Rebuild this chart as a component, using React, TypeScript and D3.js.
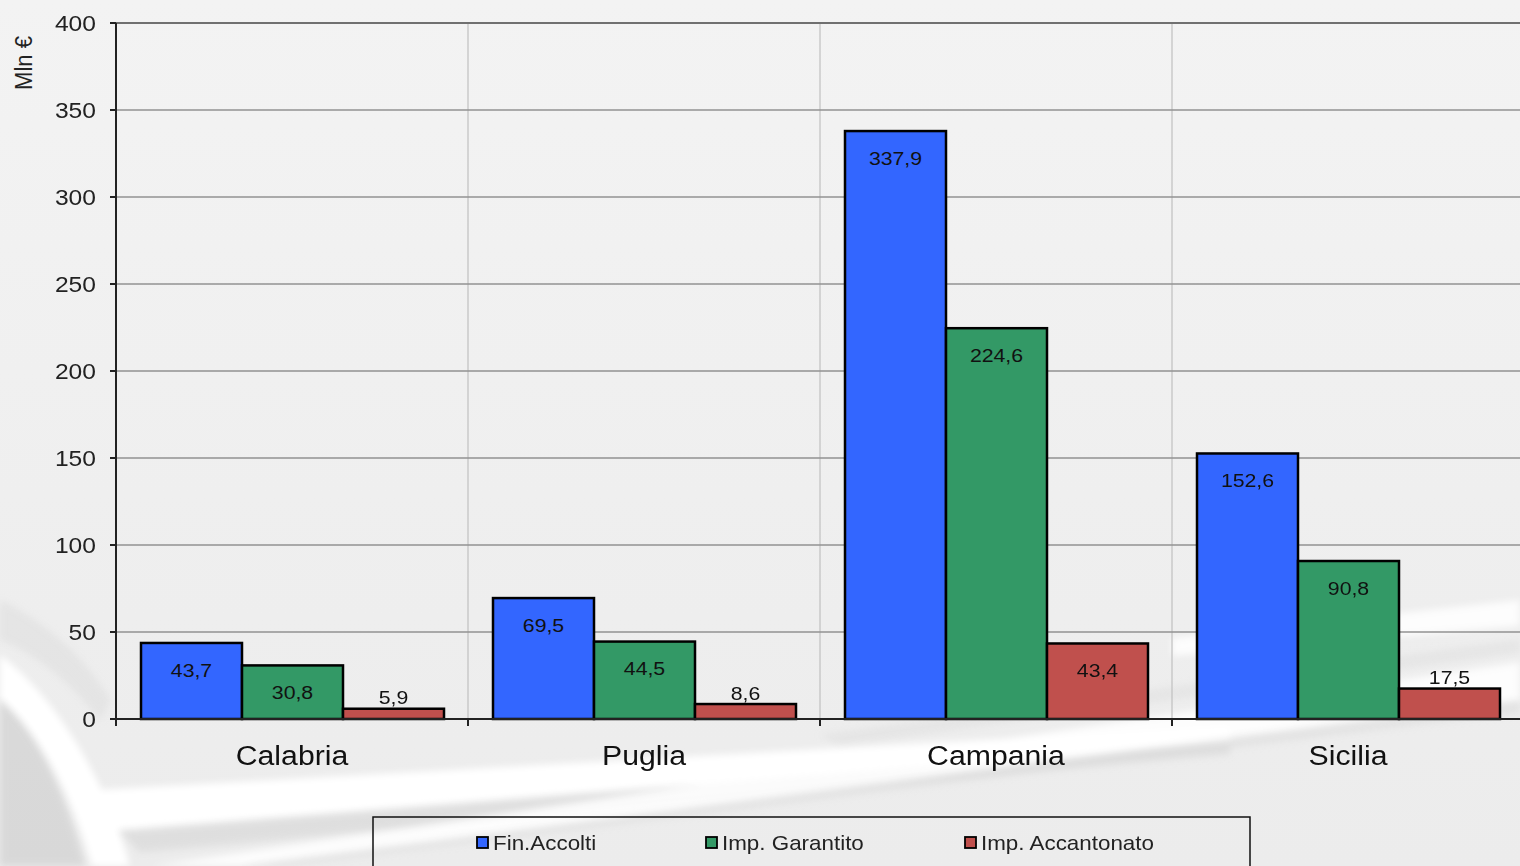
import React from "react";
import * as d3 from "d3";

const categories = ["Calabria", "Puglia", "Campania", "Sicilia"];
const seriesNames = ["Fin.Accolti", "Imp. Garantito", "Imp. Accantonato"];
const finAccolti = [43.7, 69.5, 337.9, 152.6];
const impGarantito = [30.8, 44.5, 224.6, 90.8];
const impAccantonato = [5.9, 8.6, 43.4, 17.5];
const yTicks = [0, 50, 100, 150, 200, 250, 300, 350, 400];
const colors = ["#3366FF", "#339966", "#C0504D"];

const W = 1520;
const H = 866;
const FONT = "'Liberation Sans', Arial, sans-serif";
const SX = 1.12;

function T(props: {
  x: number;
  y: number;
  size: number;
  anchor?: string;
  fill?: string;
  rotate?: number;
  children: React.ReactNode;
}) {
  const { x, y, size, anchor = "middle", fill = "#111", rotate = 0, children } = props;
  return (
    <text
      transform={`translate(${x},${y}) scale(${SX},1)${rotate ? ` rotate(${rotate})` : ""}`}
      textAnchor={anchor}
      dominantBaseline="central"
      fontFamily={FONT}
      fontSize={size}
      fill={fill}
    >
      {children}
    </text>
  );
}

export default function App() {
  const series = [finAccolti, impGarantito, impAccantonato];
  const x = d3.scaleBand<string>().domain(categories).range([116, 1524]).padding(0);
  const bw = x.bandwidth();
  const x1 = d3.scaleBand<string>().domain(seriesNames).range([25, bw - 24]).padding(0);
  const y = d3.scaleLinear().domain([0, 400]).range([719, 23]);
  const fmt = (v: number) => v.toFixed(1).replace(".", ",");

  const legendX = [477, 706, 965];

  return (
    <svg width={W} height={H} style={{ position: "absolute", left: 0, top: 0, display: "block" }}>
      <defs>
        <filter id="blur" x="-20%" y="-20%" width="140%" height="140%">
          <feGaussianBlur stdDeviation="3.5" />
        </filter>
        <linearGradient id="bg" x1="0" y1="0" x2="0" y2="1">
          <stop offset="0" stopColor="#f3f3f3" />
          <stop offset="1" stopColor="#ececec" />
        </linearGradient>
      </defs>
      <rect x={0} y={0} width={W} height={H} fill="url(#bg)" />
      {/* decorative background streaks */}
      <g filter="url(#blur)">
        <path d="M0,700 C35,730 65,790 85,866 L0,866 Z" fill="#d2d2d2" opacity={0.75} />
        <path d="M0,655 C60,700 110,790 130,866 L92,866 C72,795 40,732 0,698 Z" fill="#ffffff" />
        <path d="M0,600 C40,620 80,650 110,700 L100,720 C70,680 30,650 0,640 Z" fill="#dcdcdc" opacity={0.5} />
        <path d="M118,830 L1230,742 L1230,754 L140,852 Z" fill="#d8d8d8" opacity={0.7} />
        <path d="M95,790 L1230,726 L1230,742 L118,830 Z" fill="#ffffff" />
        <path d="M150,866 L1520,662 L1520,700 L240,866 Z" fill="#ffffff" opacity={0.85} />
        <path d="M240,866 L1520,700 L1520,712 L280,866 Z" fill="#dadada" opacity={0.5} />
        <path d="M1172,638 L1520,600 L1520,626 L1172,656 Z" fill="#ffffff" opacity={0.85} />
        <path d="M820,735 L1520,640 L1520,652 L840,745 Z" fill="#dedede" opacity={0.5} />
      </g>

      {/* vertical grid lines */}
      {categories.slice(1).map((c) => (
        <line key={c} x1={x(c)!} x2={x(c)!} y1={y(400)} y2={y(0)} stroke="#c0c0c0" strokeWidth={1.2} />
      ))}
      {/* horizontal grid lines */}
      {yTicks.slice(1).map((t) => (
        <line key={t} x1={116} x2={W} y1={y(t)} y2={y(t)} stroke={t === 400 ? "#707070" : "#929292"} strokeWidth={t === 400 ? 2 : 1.3} />
      ))}

      {/* bars */}
      {categories.map((c, i) => (
        <g key={c} transform={`translate(${x(c)},0)`}>
          {series.map((s, j) => {
            const v = s[i];
            const top = y(v);
            const h = y(0) - top;
            const bx = x1(seriesNames[j])!;
            const cx = bx + x1.bandwidth() / 2;
            const ly = v >= 20 ? top + 27 : top - 11;
            return (
              <g key={j}>
                <rect x={bx} y={top} width={x1.bandwidth()} height={h} fill={colors[j]} stroke="#000" strokeWidth={2.5} />
                <T x={cx} y={ly} size={19} fill="#111">
                  {fmt(v)}
                </T>
              </g>
            );
          })}
        </g>
      ))}

      {/* axes */}
      <line x1={116} x2={116} y1={y(400)} y2={y(0) + 7} stroke="#222" strokeWidth={2} />
      <line x1={110} x2={W} y1={y(0)} y2={y(0)} stroke="#222" strokeWidth={2} />
      {yTicks.map((t) => (
        <g key={t}>
          <line x1={110} x2={116} y1={y(t)} y2={y(t)} stroke="#222" strokeWidth={2} />
          <T x={96} y={y(t)} size={22} anchor="end" fill="#222">
            {t}
          </T>
        </g>
      ))}
      {categories.map((c) => (
        <g key={c}>
          <line x1={x(c)!} x2={x(c)!} y1={y(0)} y2={y(0) + 7} stroke="#222" strokeWidth={2} />
          <T x={x(c)! + bw / 2} y={756} size={27} fill="#111">
            {c}
          </T>
        </g>
      ))}
      <T x={24} y={63} size={22} fill="#222" rotate={-90}>
        Mln €
      </T>

      {/* legend */}
      <rect x={373} y={817} width={877} height={70} fill="none" stroke="#111" strokeWidth={1.5} />
      {seriesNames.map((n, j) => (
        <g key={n}>
          <rect x={legendX[j]} y={837} width={11} height={11} fill={colors[j]} stroke="#000" strokeWidth={1.8} />
          <T x={legendX[j] + 16} y={843} size={20} anchor="start" fill="#222">
            {n}
          </T>
        </g>
      ))}
    </svg>
  );
}
